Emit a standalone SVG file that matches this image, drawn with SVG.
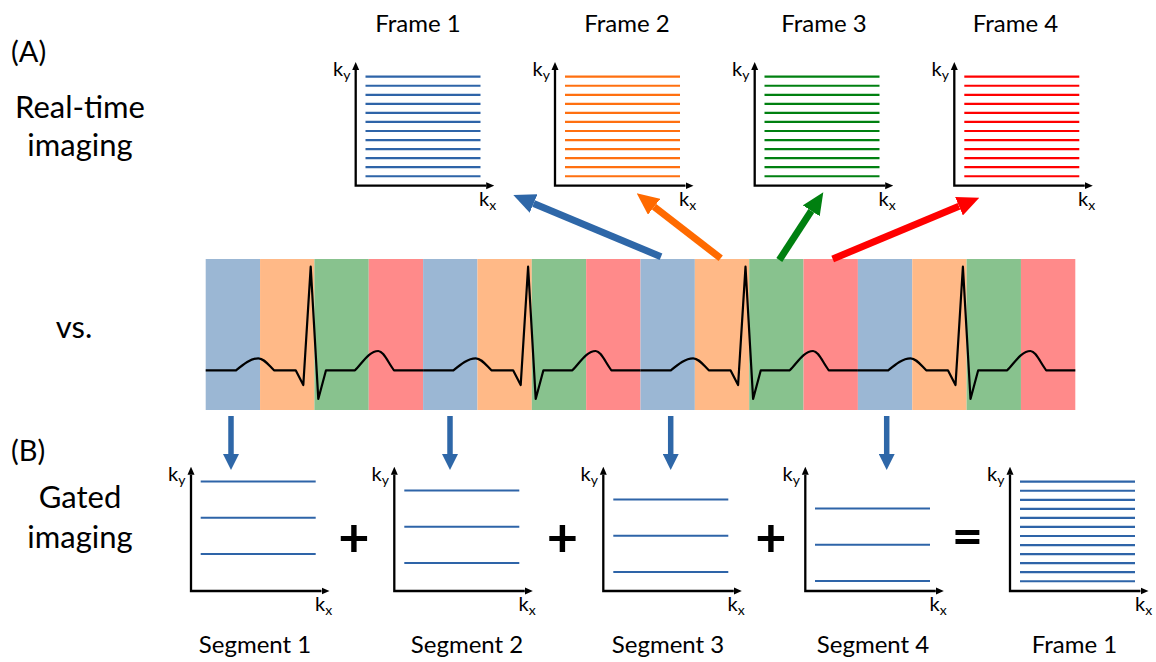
<svg xmlns="http://www.w3.org/2000/svg" xmlns:xlink="http://www.w3.org/1999/xlink" width="1156" height="662" viewBox="0 0 1156 662">
<style>
text{font-family:Lato,"Open Sans","Liberation Sans",sans-serif;fill:#000}
.title{font-size:24px;text-anchor:middle}
.side{font-size:31px;text-anchor:middle}
.k{font-size:20px}
.sub{font-size:14px}
.axis{fill:none;stroke:#000;stroke-width:2.3;marker-start:url(#ah);marker-end:url(#ah)}
.op{font-size:54px;font-weight:bold;text-anchor:middle}
.ecg{fill:none;stroke:#000;stroke-width:2.2;stroke-linejoin:round}
</style>
<defs>
<marker id="ah" markerUnits="userSpaceOnUse" markerWidth="8" markerHeight="8" viewBox="0 0 8 8" refX="0" refY="4" orient="auto-start-reverse"><path d="M0,0.5 L8,4 L0,7.5 z" fill="#000"/></marker>
<marker id="mb" markerUnits="userSpaceOnUse" markerWidth="22" markerHeight="20" viewBox="0 0 22 20" refX="0" refY="10" orient="auto"><path d="M0,0 L22,10 L0,20 z" fill="#2E67A8"/></marker>
<marker id="mo" markerUnits="userSpaceOnUse" markerWidth="22" markerHeight="20" viewBox="0 0 22 20" refX="0" refY="10" orient="auto"><path d="M0,0 L22,10 L0,20 z" fill="#FF6A00"/></marker>
<marker id="mg" markerUnits="userSpaceOnUse" markerWidth="22" markerHeight="20" viewBox="0 0 22 20" refX="0" refY="10" orient="auto"><path d="M0,0 L22,10 L0,20 z" fill="#008010"/></marker>
<marker id="mr" markerUnits="userSpaceOnUse" markerWidth="22" markerHeight="20" viewBox="0 0 22 20" refX="0" refY="10" orient="auto"><path d="M0,0 L22,10 L0,20 z" fill="#FF0000"/></marker>
<marker id="md" markerUnits="userSpaceOnUse" markerWidth="16" markerHeight="16" viewBox="0 0 16 16" refX="0" refY="8" orient="auto"><path d="M0,0 L16,8 L0,16 z" fill="#2E67A8"/></marker>
<g id="l12" stroke-width="2.2">
<line x1="0" y1="0" x2="115" y2="0"/><line x1="0" y1="9.05" x2="115" y2="9.05"/><line x1="0" y1="18.1" x2="115" y2="18.1"/><line x1="0" y1="27.15" x2="115" y2="27.15"/><line x1="0" y1="36.2" x2="115" y2="36.2"/><line x1="0" y1="45.25" x2="115" y2="45.25"/><line x1="0" y1="54.3" x2="115" y2="54.3"/><line x1="0" y1="63.35" x2="115" y2="63.35"/><line x1="0" y1="72.4" x2="115" y2="72.4"/><line x1="0" y1="81.45" x2="115" y2="81.45"/><line x1="0" y1="90.5" x2="115" y2="90.5"/><line x1="0" y1="99.55" x2="115" y2="99.55"/>
</g>
<g id="l3" stroke-width="2">
<line x1="0" y1="0" x2="115" y2="0"/><line x1="0" y1="36.2" x2="115" y2="36.2"/><line x1="0" y1="72.4" x2="115" y2="72.4"/>
</g>
<path id="axT" class="axis" d="M0,70 V185.7 H130.5"/>
<path id="axB" class="axis" d="M0,474.7 V591 H130.5"/>
<path id="cyc" class="ecg" d="M0,370.3 H30.3 C38,364 45,358.3 52.6,358.3 C58,358.3 62,364 68.3,370.3 H90 L97.6,385 L105,266.7 L112.6,399 L120.3,370.3 H149.3 C156,364 163,351 172.6,351 C178,351 182,362 188.3,370.3 H217.4"/>
</defs>

<g id="labels-left">
<text x="11" y="62" style="font-size:29px">(A)</text>
<text class="side" x="80" y="118">Real-time</text>
<text class="side" x="80" y="156">imaging</text>
<text class="side" x="74" y="338">vs.</text>
<text x="11" y="461" style="font-size:29px">(B)</text>
<text class="side" x="80" y="508">Gated</text>
<text class="side" x="80" y="548">imaging</text>
</g>

<g id="ecg-strip">
<rect x="205.7" y="259" width="54.35" height="151" fill="#9BB7D4"/>
<rect x="260.05" y="259" width="54.35" height="151" fill="#FFB987"/>
<rect x="314.4" y="259" width="54.35" height="151" fill="#88C28E"/>
<rect x="368.75" y="259" width="54.35" height="151" fill="#FF8A8A"/>
<rect x="423.1" y="259" width="54.35" height="151" fill="#9BB7D4"/>
<rect x="477.45" y="259" width="54.35" height="151" fill="#FFB987"/>
<rect x="531.8" y="259" width="54.35" height="151" fill="#88C28E"/>
<rect x="586.15" y="259" width="54.35" height="151" fill="#FF8A8A"/>
<rect x="640.5" y="259" width="54.35" height="151" fill="#9BB7D4"/>
<rect x="694.85" y="259" width="54.35" height="151" fill="#FFB987"/>
<rect x="749.2" y="259" width="54.35" height="151" fill="#88C28E"/>
<rect x="803.55" y="259" width="54.35" height="151" fill="#FF8A8A"/>
<rect x="857.9" y="259" width="54.35" height="151" fill="#9BB7D4"/>
<rect x="912.25" y="259" width="54.35" height="151" fill="#FFB987"/>
<rect x="966.6" y="259" width="54.35" height="151" fill="#88C28E"/>
<rect x="1020.95" y="259" width="54.35" height="151" fill="#FF8A8A"/>
<use xlink:href="#cyc" x="205.7"/>
<use xlink:href="#cyc" x="423.1"/>
<use xlink:href="#cyc" x="640.5"/>
<use xlink:href="#cyc" x="857.9"/>
</g>

<g id="frame1-top">
<text class="title" x="418" y="32">Frame 1</text>
<use xlink:href="#l12" x="365.5" y="76.7" stroke="#2E64A8"/>
<use xlink:href="#axT" x="355.7"/>
<text class="k" x="333" y="76">k<tspan class="sub" dy="4">y</tspan></text>
<text class="k" x="479" y="206">k<tspan class="sub" dy="4">x</tspan></text>
</g>
<g id="frame2-top">
<text class="title" x="627" y="32">Frame 2</text>
<use xlink:href="#l12" x="565" y="76.7" stroke="#FF7010"/>
<use xlink:href="#axT" x="555"/>
<text class="k" x="532.5" y="76">k<tspan class="sub" dy="4">y</tspan></text>
<text class="k" x="679" y="206">k<tspan class="sub" dy="4">x</tspan></text>
</g>
<g id="frame3-top">
<text class="title" x="824" y="32">Frame 3</text>
<use xlink:href="#l12" x="764.5" y="76.7" stroke="#008010"/>
<use xlink:href="#axT" x="754.7"/>
<text class="k" x="732" y="76">k<tspan class="sub" dy="4">y</tspan></text>
<text class="k" x="878.5" y="206">k<tspan class="sub" dy="4">x</tspan></text>
</g>
<g id="frame4-top">
<text class="title" x="1015.5" y="32">Frame 4</text>
<use xlink:href="#l12" x="964.3" y="76.7" stroke="#FF0000"/>
<use xlink:href="#axT" x="954.3"/>
<text class="k" x="931.5" y="76">k<tspan class="sub" dy="4">y</tspan></text>
<text class="k" x="1078" y="206">k<tspan class="sub" dy="4">x</tspan></text>
</g>

<g id="segment1">
<use xlink:href="#l3" x="200.7" y="481.5" stroke="#2E64A8"/>
<use xlink:href="#axB" x="191"/>
<text class="k" x="168" y="481">k<tspan class="sub" dy="4">y</tspan></text>
<text class="k" x="315" y="611">k<tspan class="sub" dy="4">x</tspan></text>
<text class="title" x="255" y="653">Segment 1</text>
</g>
<g id="segment2">
<use xlink:href="#l3" x="404.3" y="490.5" stroke="#2E64A8"/>
<use xlink:href="#axB" x="394.3"/>
<text class="k" x="371.5" y="481">k<tspan class="sub" dy="4">y</tspan></text>
<text class="k" x="518.5" y="611">k<tspan class="sub" dy="4">x</tspan></text>
<text class="title" x="467" y="653">Segment 2</text>
</g>
<g id="segment3">
<use xlink:href="#l3" x="613.3" y="499.6" stroke="#2E64A8"/>
<use xlink:href="#axB" x="603.3"/>
<text class="k" x="580.5" y="481">k<tspan class="sub" dy="4">y</tspan></text>
<text class="k" x="727.5" y="611">k<tspan class="sub" dy="4">x</tspan></text>
<text class="title" x="668" y="653">Segment 3</text>
</g>
<g id="segment4">
<use xlink:href="#l3" x="815" y="508.6" stroke="#2E64A8"/>
<use xlink:href="#axB" x="805.3"/>
<text class="k" x="782.5" y="481">k<tspan class="sub" dy="4">y</tspan></text>
<text class="k" x="929.5" y="611">k<tspan class="sub" dy="4">x</tspan></text>
<text class="title" x="873" y="653">Segment 4</text>
</g>
<g id="frame1-bottom">
<use xlink:href="#l12" x="1020" y="481.7" stroke="#2E64A8"/>
<use xlink:href="#axB" x="1010"/>
<text class="k" x="987" y="481">k<tspan class="sub" dy="4">y</tspan></text>
<text class="k" x="1135" y="611">k<tspan class="sub" dy="4">x</tspan></text>
<text class="title" x="1074.5" y="653">Frame 1</text>
</g>

<g id="operators">
<text class="op" x="354" y="557">+</text>
<text class="op" x="562.5" y="557">+</text>
<text class="op" x="770.8" y="557">+</text>
<text class="op" x="967.5" y="555">=</text>
</g>

<g id="connectors" fill="none">
<line x1="661" y1="256.7" x2="533.6" y2="203.5" stroke="#2E67A8" stroke-width="7" marker-end="url(#mb)"/>
<line x1="720.7" y1="258.3" x2="654.1" y2="206.8" stroke="#FF6A00" stroke-width="7" marker-end="url(#mo)"/>
<line x1="779.3" y1="260" x2="811.3" y2="210.8" stroke="#008010" stroke-width="7" marker-end="url(#mg)"/>
<line x1="832.7" y1="259" x2="959" y2="206.2" stroke="#FF0000" stroke-width="7" marker-end="url(#mr)"/>
<line x1="231" y1="416" x2="231" y2="454" stroke="#2E67A8" stroke-width="5.5" marker-end="url(#md)"/>
<line x1="450" y1="416" x2="450" y2="454" stroke="#2E67A8" stroke-width="5.5" marker-end="url(#md)"/>
<line x1="670.7" y1="416" x2="670.7" y2="454" stroke="#2E67A8" stroke-width="5.5" marker-end="url(#md)"/>
<line x1="886.7" y1="416" x2="886.7" y2="454" stroke="#2E67A8" stroke-width="5.5" marker-end="url(#md)"/>
</g>
</svg>
